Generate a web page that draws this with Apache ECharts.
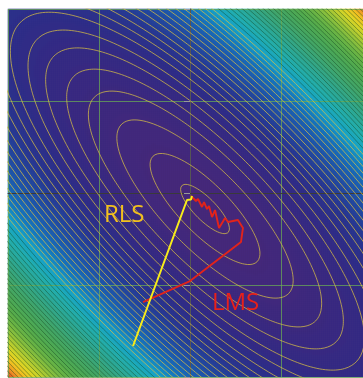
<!DOCTYPE html>
<html>
<head>
<meta charset="utf-8">
<script src="https://cdn.jsdelivr.net/npm/echarts@6/dist/echarts.min.js"></script>
<style>
html, body { margin: 0; padding: 0; background: #fff; }
#chart { width: 363px; height: 378px; }
</style>
</head>
<body>
<div id="chart"></div>
<script>
// axis ticks (weights w1 / w2)
const xTicks = [-2, -1, 0, 1, 2];
const yTicks = [-2, -1, 0, 1, 2];

// cost surface J(w): minimum, long-axis direction, axis ratio, value at the far corner
const surfCenter = [0.165, -0.174];
const surfAxis = [0.707, -0.707];
const surfRatio = 3;
const surfMax = 72;

// contour lines, given by their half length along the long axis
const contourRadii = [0.36, 0.81, 1.30, 1.72, 2.04, 2.35, 2.61, 2.87, 3.09, 3.29, 3.48,
  3.67, 3.84, 4.00, 4.16, 4.32, 4.47, 4.61, 4.75, 4.88, 5.01, 5.14, 5.27, 5.39, 5.51,
  5.63, 5.75, 5.86, 5.97, 6.08, 6.19, 6.30, 6.40, 6.51, 6.62, 6.73, 6.84, 6.94, 7.05,
  7.16, 7.27, 7.38, 7.48, 7.59, 7.70, 7.81, 7.92, 8.02, 8.13, 8.24, 8.35, 8.46, 8.56, 8.67];

// weight trajectories
const rlsX = [-0.626, -0.033, 0.011, 0.022];
const rlsY = [-1.663, -0.076, -0.071, -0.033];
const lmsX = [-0.516, 0.000, 0.560, 0.582, 0.527, 0.418, 0.385, 0.319, 0.275, 0.242,
  0.209, 0.187, 0.154, 0.132, 0.088, 0.066, 0.033, 0.011];
const lmsY = [-1.185, -0.957, -0.533, -0.380, -0.293, -0.315, -0.272, -0.380, -0.185, -0.261,
  -0.141, -0.174, -0.098, -0.152, -0.065, -0.087, -0.054, -0.033];

const fieldColors = ['#46287a', '#3a2a80', '#302c86', '#29358f', '#22489f', '#1c5db0',
  '#1578bf', '#17a2c8', '#22aeb0', '#2ca897', '#38a680', '#42a56a', '#4aa75a', '#54ab4e',
  '#68b346', '#88bf3e', '#b2cb32', '#dcd626', '#f2c222', '#ef8c25', '#dd3e22'];

const NX = 182, NY = 184;
const xMin = xTicks[0], xMax = xTicks[xTicks.length - 1];
const yMin = yTicks[0], yMax = yTicks[yTicks.length - 1];

function cost(x, y) {
  const dx = x - surfCenter[0], dy = y - surfCenter[1];
  const u = dx * surfAxis[0] + dy * surfAxis[1];
  const v = -dx * surfAxis[1] + dy * surfAxis[0];
  return u * u + surfRatio * surfRatio * v * v;
}

const cells = [];
for (let i = 0; i < NX; i++) {
  const x = xMin + (i + 0.5) * (xMax - xMin) / NX;
  for (let j = 0; j < NY; j++) {
    const y = yMin + (j + 0.5) * (yMax - yMin) / NY;
    cells.push([i, j, cost(x, y)]);
  }
}

function ellipse(a) {
  const b = a / surfRatio;
  const pts = [];
  for (let k = 0; k <= 240; k++) {
    const t = k / 240 * Math.PI * 2;
    const p = a * Math.cos(t), q = b * Math.sin(t);
    pts.push([surfCenter[0] + p * surfAxis[0] - q * surfAxis[1],
              surfCenter[1] + p * surfAxis[1] + q * surfAxis[0]]);
  }
  return pts;
}

const contourSeries = contourRadii.map(r => ({
  type: 'line', xAxisIndex: 1, yAxisIndex: 1, z: 4,
  data: ellipse(r), symbol: 'none', silent: true, animation: false,
  lineStyle: {
    width: 1,
    color: r < 5.1 ? 'rgba(214,190,70,0.75)' : 'rgba(20,70,30,0.45)'
  }
}));

const gridRect = { left: 8, top: 9, width: 364, height: 368, outerBoundsMode: 'none', containLabel: false };
const gridLine = { show: true, lineStyle: { color: 'rgba(105,170,85,0.75)', width: 1 } };
const chart = echarts.init(document.getElementById('chart'));
chart.setOption({
  animation: false,
  grid: [Object.assign({}, gridRect), Object.assign({}, gridRect)],
  xAxis: [
    { type: 'category', gridIndex: 0, show: false, data: Array.from({ length: NX }, (_, i) => i) },
    {
      type: 'value', gridIndex: 1, min: xMin, max: xMax, interval: 1, position: 'top', z: 3,
      axisLine: { show: true, lineStyle: { color: '#3a3a3a', width: 1 } },
      axisTick: { show: false }, axisLabel: { show: false },
      splitLine: gridLine
    }
  ],
  yAxis: [
    { type: 'category', gridIndex: 0, show: false, data: Array.from({ length: NY }, (_, j) => j) },
    {
      type: 'value', gridIndex: 1, min: yMin, max: yMax, interval: 1, z: 3,
      axisLine: { show: true, lineStyle: { color: '#555', width: 1 } },
      axisTick: { show: true, inside: false, length: 6, lineStyle: { color: '#999' } },
      axisLabel: { show: false },
      splitLine: gridLine
    }
  ],
  visualMap: {
    show: false, type: 'continuous', seriesIndex: 0, dimension: 2,
    min: 0, max: surfMax, inRange: { color: fieldColors }
  },
  series: [
    {
      type: 'heatmap', xAxisIndex: 0, yAxisIndex: 0, data: cells, z: 1,
      progressive: 0, silent: true, emphasis: { disabled: true }
    },
    ...contourSeries,
    {
      type: 'line', xAxisIndex: 1, yAxisIndex: 1, z: 6, symbol: 'none', silent: true,
      data: lmsX.map((x, i) => [x, lmsY[i]]),
      lineStyle: { color: '#e2231a', width: 1.9 }
    },
    {
      type: 'line', xAxisIndex: 1, yAxisIndex: 1, z: 7, symbol: 'none', silent: true,
      data: rlsX.map((x, i) => [x, rlsY[i]]),
      lineStyle: { color: '#f7ec1a', width: 2 }
    }
  ],
  graphic: [
    { type: 'text', x: 104, y: 215, z: 10, silent: true,
      style: { text: 'RLS', fill: '#f2c01e', font: '24px "Open Sans"', verticalAlign: 'middle' } },
    { type: 'text', x: 212, y: 303, z: 10, silent: true,
      style: { text: 'LMS', fill: '#e8201a', font: '24px "Open Sans"', verticalAlign: 'middle' } }
  ]
});
</script>
</body>
</html>
